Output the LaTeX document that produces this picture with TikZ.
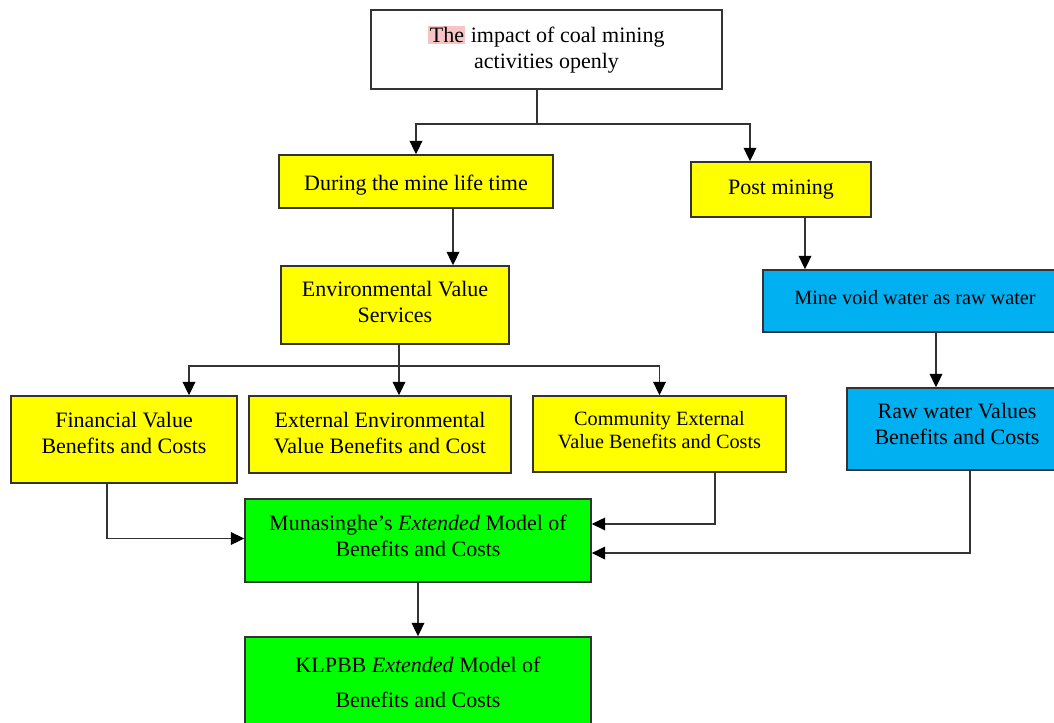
\documentclass[tikz,border=0pt]{standalone}
\usepackage{fontspec}
\setmainfont{Liberation Serif}
\usetikzlibrary{arrows.meta,positioning}
\definecolor{BoxYellow}{HTML}{FFFF00}
\definecolor{BoxBlue}{HTML}{00B0F0}
\definecolor{BoxGreen}{HTML}{00FF00}
\definecolor{EdgeGrey}{HTML}{333333}
\definecolor{MarkPink}{HTML}{F6C4C4}
\newcommand{\padbelow}[1]{\rule[-#1]{0pt}{0pt}}
\newcommand{\padabove}[1]{\rule{0pt}{#1}}

\begin{document}
\begin{tikzpicture}[
  x=0.75pt, y=-0.75pt,
  box/.style={draw=EdgeGrey, line width=1.2pt, fill=#1, align=center,
              inner sep=2pt, font=\fontsize{16.5}{19.5}\selectfont},
  smalltext/.style={font=\fontsize{15.2}{17.25}\selectfont},
  link/.style={line width=1pt, color=EdgeGrey},
  arr/.style={link, -{Triangle[length=10pt,width=9.5pt,fill=black,color=black]}}
]
\clip (0,0) rectangle (1054,722);
\fill[white] (0,0) rectangle (1054,722);

% top of the tree
\node[box=white, minimum width=263.25pt, minimum height=59.25pt] (impact) at (546.5,49.5)
  {{\setlength{\fboxsep}{1pt}\colorbox{MarkPink}{The}} impact of coal mining\\activities openly};

% two phases
\node[box=BoxYellow, minimum width=205.5pt, minimum height=39.75pt] (during) at (416,181.5)
  {\padabove{17.4pt}During the mine life time};
\node[box=BoxYellow, minimum width=135pt, minimum height=41.25pt] (post) at (781,189.5)
  {Post mining};

% during mining branch
\node[box=BoxYellow, minimum width=171pt, minimum height=58.5pt] (envserv) at (395,305)
  {Environmental Value\\Services\padbelow{4.7pt}};
\node[box=BoxYellow, minimum width=169.5pt, minimum height=65.25pt] (fin) at (124,439.5)
  {Financial Value\\Benefits and Costs\padbelow{10.7pt}};
\node[box=BoxYellow, minimum width=196.5pt, minimum height=57.75pt] (extenv) at (380,434.5)
  {External Environmental\\Value Benefits and Cost\padbelow{3.2pt}};
\node[box=BoxYellow, smalltext, minimum width=189.75pt, minimum height=57pt] (comm) at (659.5,434)
  {Community External\\Value Benefits and Costs\padbelow{6.5pt}};

% post mining branch
\node[box=BoxBlue, smalltext, minimum width=228pt, minimum height=46.5pt] (voidw) at (915,301)
  {Mine void water as raw water\padbelow{5pt}};
\node[box=BoxBlue, minimum width=165pt, minimum height=61.5pt] (raw) at (957,429)
  {Raw water Values\\Benefits and Costs\padbelow{7pt}};

% models
\node[box=BoxGreen, minimum width=259.5pt, minimum height=62.25pt] (muna) at (418,540.5)
  {Munasinghe's \textit{Extended} Model of\\Benefits and Costs\padbelow{7.7pt}};
\node[box=BoxGreen, font=\fontsize{16.5}{26}\selectfont,
      minimum width=259.5pt, minimum height=68.25pt] (klpbb) at (418,682.5)
  {KLPBB \textit{Extended} Model of\\Benefits and Costs};

% forks
\coordinate (fork1) at (537,124);
\coordinate (fork2) at (399,366);

\draw[link] (fork1 |- impact.south) -- (fork1);
\draw[arr] (fork1) -| (during.north);
\draw[arr] (fork1) -| ([xshift=-23.25pt]post.north);

\draw[arr] ([xshift=27.75pt]during.south) -- ([xshift=27.75pt]during.south |- envserv.north);
\draw[arr] ([xshift=18pt]post.south) -- ([xshift=18pt]post.south |- voidw.north);
\draw[arr] ([xshift=15.75pt]voidw.south) -- ([xshift=15.75pt]voidw.south |- raw.north);

\draw[link] (fork2 |- envserv.south) -- (fork2);
\draw[arr] (fork2) -| ([xshift=48.75pt]fin.north);
\draw[arr] (fork2) -- (fork2 |- extenv.north);
\draw[arr] (fork2) -| (comm.north);

\draw[arr] ([xshift=-12.75pt]fin.south) |- ([yshift=1.5pt]muna.west);
\draw[arr] ([xshift=41.6pt]comm.south) |- ([yshift=12.4pt]muna.east);
\draw[arr] ([xshift=9.75pt]raw.south) |- ([yshift=-9.4pt]muna.east);
\draw[arr] (muna.south) -- (klpbb.north);

\end{tikzpicture}
\end{document}
